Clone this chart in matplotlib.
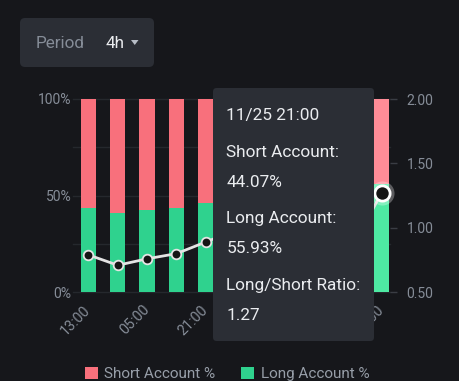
import matplotlib.pyplot as plt
import numpy as np
from matplotlib.patches import FancyBboxPatch, Polygon

# bars every 8h, hovered bar is the last one (11/25 21:00)
times = ["13:00", "21:00", "05:00", "13:00", "21:00", "05:00",
         "13:00", "21:00", "05:00", "13:00", "21:00"]
long_pct = [43.5, 40.9, 42.6, 43.8, 46.4, 49.4, 48.0, 50.5, 47.2, 45.8, 55.93]
short_pct = [56.5, 59.1, 57.4, 56.2, 53.6, 50.6, 52.0, 49.5, 52.8, 54.2, 44.07]
ratio = [0.79, 0.71, 0.76, 0.80, 0.89, 0.98, 0.93, 1.02, 0.90, 0.85, 1.27]
hover = 10

pct_grid = [0, 25, 50, 75, 100]
pct_ticks = [0, 50, 100]
ratio_ticks = [0.5, 1.0, 1.5, 2.0]

tooltip_lines = ["11/25 21:00", "Short Account:", "44.07%",
                 "Long Account:", "55.93%", "Long/Short Ratio:", "1.27"]

BG = "#16171b"
PANEL = "#2b2e35"
GRID = "#25282d"
TXT = "#868d98"
WHITE = "#eaecef"
SHORT = "#f8707c"
LONG = "#2fd28e"
SHORT_HI = "#ff8c97"
LONG_HI = "#4eeaa3"
LINE = "#e4e4e4"

plt.rcParams["font.family"] = ["Roboto", "DejaVu Sans"]

W, H = 460, 381
fig = plt.figure(figsize=(W / 100, H / 100), dpi=100, facecolor=BG)


def fx(px):
    return px / W


def fy(py):
    return 1 - py / H


ax = fig.add_axes([fx(80), fy(292.3), fx(310), 193.3 / H])
ax.set_facecolor(BG)

x = np.arange(len(times))
long_cols = [LONG_HI if i == hover else LONG for i in x]
short_cols = [SHORT_HI if i == hover else SHORT for i in x]
b_long = ax.bar(x, long_pct, width=0.52, color=long_cols, zorder=2, label="Long Account %")
b_short = ax.bar(x, short_pct, bottom=long_pct, width=0.52, color=short_cols, zorder=2,
                 label="Short Account %")
ax.set_xlim(-0.29, 10.29)
ax.set_ylim(0, 100)

for v in pct_grid:
    ax.axhline(v, xmin=-0.023, xmax=1, color=GRID, lw=1, zorder=1, clip_on=False)

ax.set_yticks(pct_ticks, [f"{v}%" for v in pct_ticks])
ax.tick_params(axis="y", length=0, pad=6, labelcolor=TXT, labelsize=10)
ax.set_xticks(x[::2], [times[i] for i in x[::2]])
ax.tick_params(axis="x", length=0, pad=11, labelcolor=TXT, labelsize=10.3)
for lbl in ax.get_xticklabels():
    lbl.set_rotation(45)
    lbl.set_ha("right")
    lbl.set_va("center")
    lbl.set_rotation_mode("anchor")
for s in ax.spines.values():
    s.set_visible(False)

# ratio line on the right axis
ax2 = ax.twinx()
ax2.set_ylim(0.5, 2.0)
ax2.set_yticks(ratio_ticks, [f"{v:.2f}" for v in ratio_ticks])
ax2.tick_params(axis="y", length=5, width=1, color="#3a3d44", pad=7,
                labelcolor=TXT, labelsize=10)
for s in ax2.spines.values():
    s.set_visible(False)

ax2.plot(x, ratio, color=LINE, lw=2, zorder=3, clip_on=False)
ax2.scatter(x[:hover], ratio[:hover], s=48, c="#151515", edgecolors=LINE,
            linewidths=1.3, zorder=4, clip_on=False)
ax2.scatter([x[hover]], [ratio[hover]], s=300, c="white", alpha=0.3, zorder=4,
            linewidths=0, clip_on=False)
ax2.scatter([x[hover]], [ratio[hover]], s=120, c="#151515", edgecolors="white",
            linewidths=2, zorder=5, clip_on=False)

# Period button
fig.add_artist(FancyBboxPatch((fx(20), fy(67)), fx(134), 49 / H,
                              boxstyle="round,pad=0,rounding_size=0.011",
                              transform=fig.transFigure, facecolor=PANEL,
                              edgecolor="none", mutation_aspect=W / H))
fig.text(fx(36), fy(43), "Period", color=TXT, fontsize=12.3, va="center", ha="left")
fig.text(fx(106), fy(43), "4h", color=WHITE, fontsize=12.3, va="center", ha="left")
fig.add_artist(Polygon([[fx(131), fy(40)], [fx(138.5), fy(40)], [fx(134.75), fy(45)]],
                       closed=True, transform=fig.transFigure, facecolor="#b7bdc6",
                       edgecolor="none"))

# tooltip
fig.add_artist(FancyBboxPatch((fx(213), fy(341)), fx(161), 253 / H,
                              boxstyle="round,pad=0,rounding_size=0.008",
                              transform=fig.transFigure, facecolor=PANEL,
                              edgecolor="none", mutation_aspect=W / H))
line_y = [115.7, 152.7, 182.3, 219, 249, 285.7, 315]
for txt, yy in zip(tooltip_lines, line_y):
    fig.text(fx(226.5), fy(yy), txt, color=WHITE, fontsize=12.4, va="center", ha="left")

fig.legend(handles=[b_short, b_long], labels=["Short Account %", "Long Account %"],
           loc="center", bbox_to_anchor=(0.494, fy(374)), ncol=2, frameon=False,
           fontsize=11, labelcolor="#979ea8", handlelength=0.8, handleheight=0.8,
           handletextpad=0.45, columnspacing=1.7)

fig.savefig("out.png", dpi=100, facecolor=BG)
